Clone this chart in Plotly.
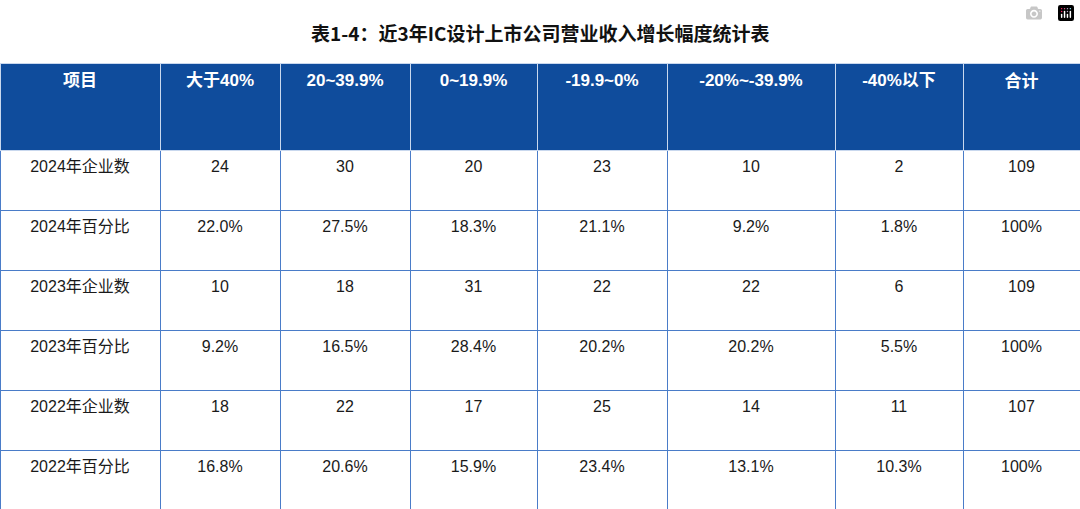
import plotly.graph_objects as go

title = "表1-4：近3年IC设计上市公司营业收入增长幅度统计表"
headers = ["项目", "大于40%", "20~39.9%", "0~19.9%", "-19.9~0%", "-20%~-39.9%", "-40%以下", "合计"]
row_labels = ["2024年企业数", "2024年百分比", "2023年企业数", "2023年百分比", "2022年企业数", "2022年百分比"]
gt40 = ["24", "22.0%", "10", "9.2%", "18", "16.8%"]
r20_39 = ["30", "27.5%", "18", "16.5%", "22", "20.6%"]
r0_19 = ["20", "18.3%", "31", "28.4%", "17", "15.9%"]
rn19_0 = ["23", "21.1%", "22", "20.2%", "25", "23.4%"]
rn20_39 = ["10", "9.2%", "22", "20.2%", "14", "13.1%"]
lt40 = ["2", "1.8%", "6", "5.5%", "11", "10.3%"]
total = ["109", "100%", "109", "100%", "107", "100%"]

widths = [160, 120, 130, 127, 130, 168, 128, 117]
font = "Liberation Sans, Arial, Noto Sans CJK SC, sans-serif"

cols = [row_labels, gt40, r20_39, r0_19, rn19_0, rn20_39, lt40, total]
cols = [["<br>" + v for v in c] for c in cols]

fig = go.Figure(go.Table(
    columnwidth=widths,
    domain=dict(x=[0, 1], y=[0, 1 - 63 / 509]),
    header=dict(values=[f"<br><b>{h}</b>" for h in headers], fill_color="#0f4c9c",
                line=dict(color="#c9d8ee", width=1), height=87, align="center",
                font=dict(color="white", size=17, family=font)),
    cells=dict(values=cols,
               fill_color="white", line=dict(color="#4a7cc8", width=1), height=60,
               align="center", font=dict(color="#1a1a1a", size=16, family=font)),
))
fig.add_annotation(text=f"<b>{title}</b>", x=0.5, y=1 - 33 / 509, xref="paper", yref="paper",
                   yanchor="middle", showarrow=False,
                   font=dict(size=19, color="#111", family="Noto Sans CJK SC, sans-serif"))
fig.update_layout(width=1080, height=509, margin=dict(l=0, r=0, t=0, b=0), paper_bgcolor="white")
fig.write_html("out.html", post_script="document.body.style.margin='0';document.body.style.padding='0';")
